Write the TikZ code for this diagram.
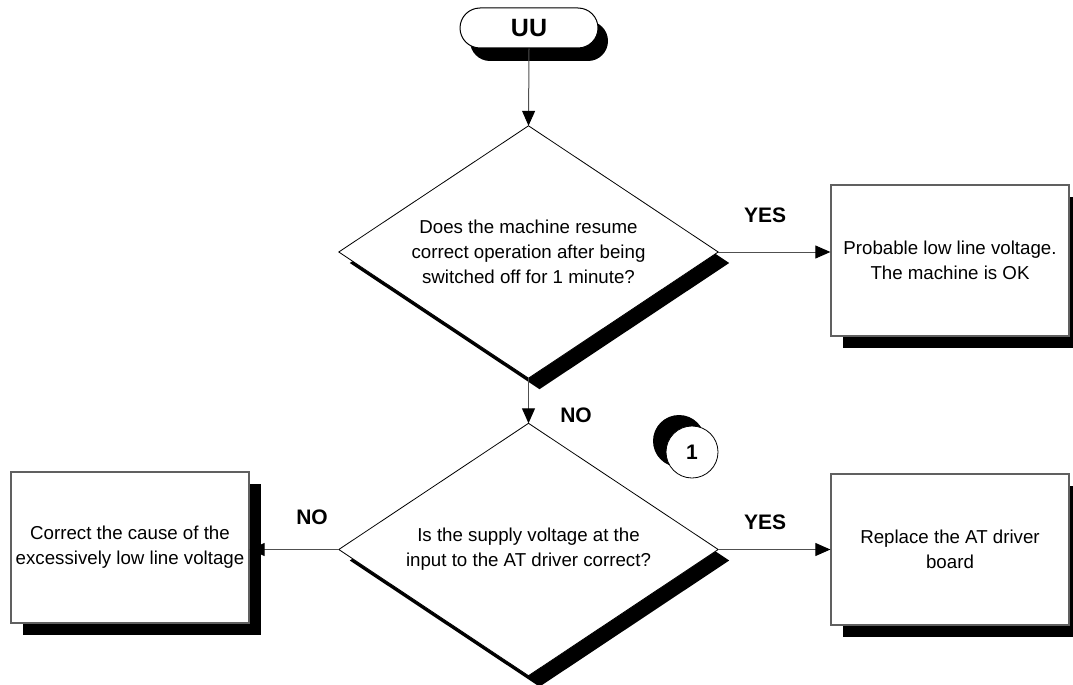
\documentclass[tikz,border=0pt]{standalone}
\usepackage{fontspec}
\setmainfont{Liberation Sans}
\usetikzlibrary{arrows.meta,shadows,shapes.misc}
\pgfdeclarelayer{bg}
\pgfsetlayers{bg,main}
\definecolor{edgegray}{HTML}{505050}
\definecolor{boxgray}{HTML}{606060}
\tikzset{
  body/.style={font=\fontsize{18.7}{25}\selectfont},
  answer/.style={font=\fontsize{21}{24}\selectfont\bfseries, inner sep=0pt},
  solidshadow/.style 2 args={drop shadow={shadow xshift=#1, shadow yshift=#2, opacity=1, fill=black}},
  procbox/.style={body, rectangle, draw=boxgray, line width=1.3pt, fill=white,
    minimum width=238pt, minimum height=151pt, inner sep=0pt, align=center,
    solidshadow={12pt}{-12pt}},
  decision/.style={body, rectangle, minimum width=379pt, minimum height=252pt,
    inner sep=0pt, align=center},
  terminal/.style={rounded rectangle, draw=black, line width=1pt, fill=white,
    minimum width=138pt, minimum height=40pt, inner sep=0pt,
    font=\fontsize{25}{28}\selectfont\bfseries, solidshadow={10pt}{-13pt}},
  connector/.style={circle, draw=black, line width=0.8pt, fill=white,
    minimum size=52pt, inner sep=0pt, font=\fontsize{21}{24}\selectfont\bfseries,
    solidshadow={-13pt}{11pt}},
  flow/.style={draw=edgegray, line width=1pt,
    -{Triangle[length=15pt,width=13pt,color=black]}},
  dshadow/.style={fill=black},
  dface/.style={fill=white, draw=black, line width=0.8pt}
}
% outline of a decision node, optionally shifted
\newcommand{\diamondpath}[2]{([shift={#2}]#1.north) -- ([shift={#2}]#1.east) -- ([shift={#2}]#1.south) -- ([shift={#2}]#1.west) -- cycle}
\begin{document}
\begin{tikzpicture}[x=1pt, y=-1pt]
\useasboundingbox (0,0) rectangle (1073,685);

% start terminal
\node[terminal] (start) at (529,28) {UU};

% decisions
\node[decision] (d1) at (528.5,252) {Does the machine resume\\correct operation after being\\switched off for 1 minute?};
\node[decision] (d2) at (528.5,549.5) {Is the supply voltage at the\\input to the AT driver correct?};
\begin{pgfonlayer}{bg}
  \fill[dshadow] \diamondpath{d1}{(11,11)};
  \filldraw[dface] \diamondpath{d1}{(0,0)};
  \fill[dshadow] \diamondpath{d2}{(11,11)};
  \filldraw[dface] \diamondpath{d2}{(0,0)};
\end{pgfonlayer}

% action boxes
\node[procbox] (ok) at (950,260.5) {Probable low line voltage.\\The machine is OK};
\node[procbox] (repl) at (950,549.5) {Replace the AT driver\\board};
\node[procbox] (fix) at (130,547.5) {Correct the cause of the\\excessively low line voltage};

% off-page connector
\node[connector] (c1) at (692,452) {1};

% flow lines
\draw[flow] (start.south) -- (d1.north);
\draw[flow] (d1.east) -- (d1.east -| ok.west);
\draw[flow] (d1.south) -- (d2.north);
\draw[flow] (d2.east) -- (d2.east -| repl.west);
\draw[flow] (d2.west) -- (d2.west -| fix.east);

% branch labels
\node[answer] (yes1) at (765,215) {YES};
\node[answer] (no1) at (576,415) {NO};
\node[answer] (no2) at (312,517) {NO};
\node[answer] (yes2) at (765,522) {YES};
\end{tikzpicture}
\end{document}
